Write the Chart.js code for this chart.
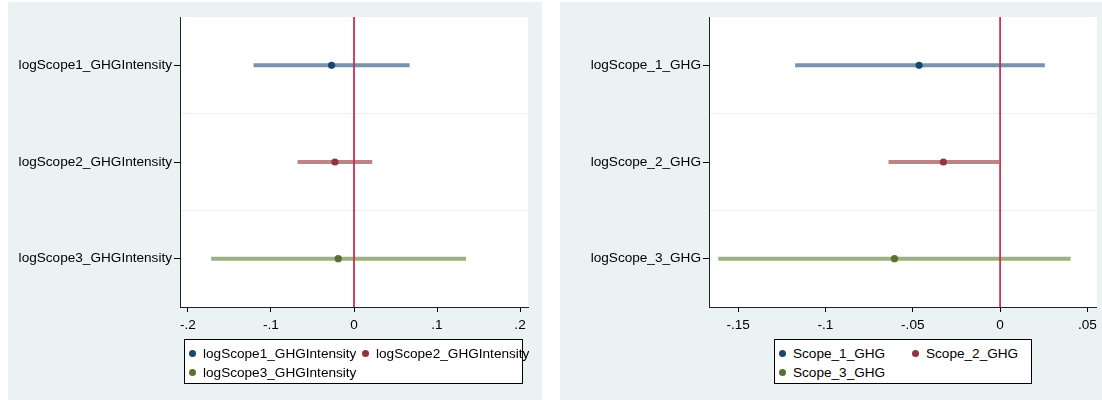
<!DOCTYPE html>
<html>
<head>
   <title>Coefficient plots</title>
   <script src="https://cdn.jsdelivr.net/npm/chart.js"></script>
   <style>
       body { margin: 0; background: #fff; width: 1102px; height: 400px; overflow: hidden; position: relative;
              font-family: "Liberation Sans", Arial, sans-serif; }
       canvas { position: absolute; background: #eaf2f3; }
       .legend { position: absolute; border: 1px solid #000; background: #fff; box-sizing: border-box; font-size: 13.6px; }
       .item { position: absolute; white-space: nowrap; line-height: 15px; }
       .dot { position: absolute; width: 7px; height: 7px; border-radius: 50%; }
   </style>
</head>
<body>
   <canvas id="leftChart" width="534" height="398" style="left:8px; top:2px;"></canvas>
   <canvas id="rightChart" width="542" height="398" style="left:560px; top:2px;"></canvas>
   <div id="leftLegend" class="legend" style="left:184px; top:339px; width:339px; height:45px;"></div>
   <div id="rightLegend" class="legend" style="left:774px; top:339px; width:258px; height:45px;"></div>

   <script>
       // left panel: GHG intensity
       const leftCats = ["logScope1_GHGIntensity", "logScope2_GHGIntensity", "logScope3_GHGIntensity"];
       const leftCoef = [-0.027, -0.023, -0.019];
       const leftLo = [-0.121, -0.068, -0.172];
       const leftHi = [0.067, 0.022, 0.135];
       const leftXTicks = [-0.2, -0.1, 0, 0.1, 0.2];
       const leftNames = ["logScope1_GHGIntensity", "logScope2_GHGIntensity", "logScope3_GHGIntensity"];

       // right panel: GHG levels
       const rightCats = ["logScope_1_GHG", "logScope_2_GHG", "logScope_3_GHG"];
       const rightCoef = [-0.0464, -0.0325, -0.0605];
       const rightLo = [-0.1174, -0.0639, -0.1614];
       const rightHi = [0.0256, -0.0006, 0.0404];
       const rightXTicks = [-0.15, -0.1, -0.05, 0, 0.05];
       const rightNames = ["Scope_1_GHG", "Scope_2_GHG", "Scope_3_GHG"];

       const markColors = ["#1a476f", "#90353b", "#55752f"];
       const ciColors = ["#7a93ac", "#bd8487", "#9cb17f"];
       const FONT = { family: "'Liberation Sans', Arial, sans-serif", size: 13.6 };

       function stataNum(v) {
           if (v === 0) return "0";
           return String(+v.toFixed(4)).replace("0.", ".");
       }

       const plotBg = {
           id: "plotBg",
           beforeDraw(chart) {
               const a = chart.chartArea;
               chart.ctx.save();
               chart.ctx.fillStyle = "#fff";
               chart.ctx.fillRect(a.left, a.top, a.right - a.left, a.bottom - a.top);
               chart.ctx.restore();
           }
       };

       function makePanel(id, cats, coef, lo, hi, xTicks, xMin, xMax, yWidth, padRight) {
           const datasets = [];
           datasets.push({
               data: [{ x: 0, y: 0.5 }, { x: 0, y: 3.5 }],
               showLine: true, borderColor: "#c8284f", borderWidth: 1,
               pointRadius: 0, order: 0
           });
           for (let i = 0; i < cats.length; i++) {
               datasets.push({
                   data: [{ x: lo[i], y: i + 1 }, { x: hi[i], y: i + 1 }],
                   showLine: true, borderColor: ciColors[i], borderWidth: 4,
                   borderCapStyle: "butt", pointRadius: 0, order: 2
               });
               datasets.push({
                   data: [{ x: coef[i], y: i + 1 }],
                   pointRadius: 3.6, pointBackgroundColor: markColors[i],
                   pointBorderWidth: 0, order: 1
               });
           }

           return new Chart(document.getElementById(id), {
               type: "scatter",
               data: { datasets: datasets },
               plugins: [plotBg],
               options: {
                   responsive: false,
                   animation: false,
                   layout: { padding: { left: 0, right: padRight, top: 15, bottom: 63 } },
                   plugins: { legend: { display: false }, tooltip: { enabled: false } },
                   scales: {
                       x: {
                           min: xMin, max: xMax,
                           afterBuildTicks: s => { s.ticks = xTicks.map(v => ({ value: v })); },
                           afterFit: s => { s.height = 30; },
                           grid: { drawOnChartArea: false, tickLength: 5, color: "#000" },
                           border: { color: "#222", width: 1 },
                           ticks: { font: FONT, color: "#000", padding: 5, maxRotation: 0,
                                    callback: v => stataNum(v) }
                       },
                       y: {
                           min: 0.5, max: 3.5, reverse: true,
                           afterBuildTicks: s => { s.ticks = [1, 1.5, 2, 2.5, 3].map(v => ({ value: v })); },
                           afterFit: s => { s.width = yWidth; },
                           grid: {
                               tickLength: 6,
                               color: c => (c.tick && c.tick.value % 1 !== 0) ? "#e8f0f1" : "rgba(0,0,0,0)",
                               tickColor: c => (c.tick && c.tick.value % 1 === 0) ? "#000" : "rgba(0,0,0,0)"
                           },
                           border: { color: "#222", width: 1 },
                           ticks: { font: FONT, color: "#000", padding: 2,
                                    callback: v => (v % 1 === 0 ? cats[v - 1] : "") }
                       }
                   }
               }
           });
       }

       function makeLegend(id, names, col2Left) {
           const box = document.getElementById(id);
           names.forEach((n, i) => {
               const left = (i % 2 === 0) ? 0 : col2Left;
               const top = (i < 2) ? 6 : 25;
               const dot = document.createElement("div");
               dot.className = "dot";
               dot.style.left = (left + 4) + "px";
               dot.style.top = (top + 4) + "px";
               dot.style.background = markColors[i];
               const t = document.createElement("div");
               t.className = "item";
               t.style.left = (left + 18) + "px";
               t.style.top = top + "px";
               t.textContent = n;
               box.appendChild(dot);
               box.appendChild(t);
           });
       }

       makePanel("leftChart", leftCats, leftCoef, leftLo, leftHi, leftXTicks, -0.2096, 0.2096, 172, 14);
       makePanel("rightChart", rightCats, rightCoef, rightLo, rightHi, rightXTicks, -0.1667, 0.0554, 149, 4);
       makeLegend("leftLegend", leftNames, 173);
       makeLegend("rightLegend", rightNames, 133);
   </script>
</body>
</html>
